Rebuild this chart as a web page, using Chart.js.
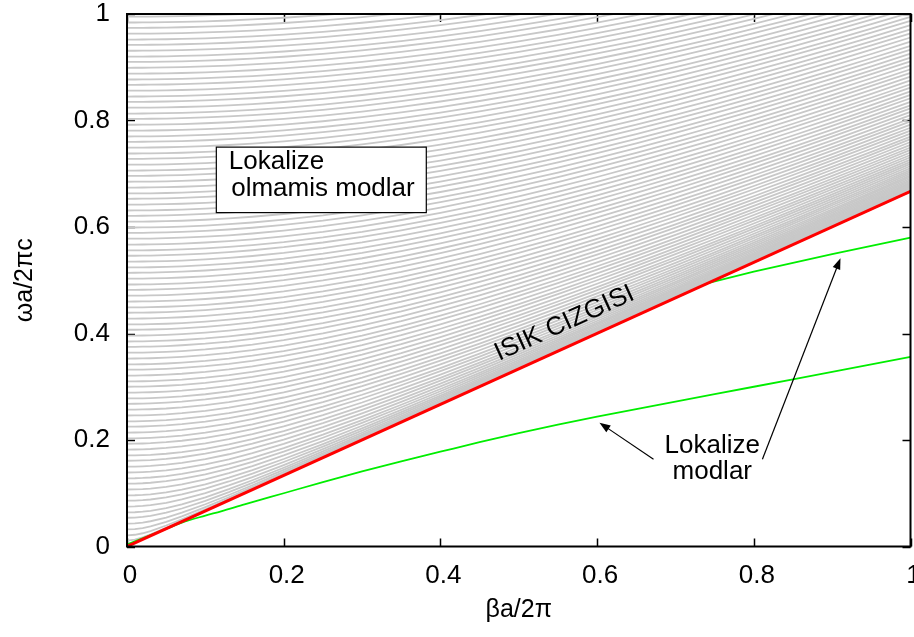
<!DOCTYPE html>
<html>
<head>
    <meta charset="UTF-8">
    <title>Isik cizgisi ve lokalize modlar</title>
    <script src="https://cdn.jsdelivr.net/npm/chart.js@4/dist/chart.umd.min.js"></script>
    <style type="text/css">
        html, body {
            margin: 0;
            padding: 0;
            overflow: hidden;
            background: #fff;
        }
        #wrap {
            width: 940px;
            height: 637px;
        }
    </style>
</head>
<body>

<div id="wrap">
    <canvas id="bandChart" width="940" height="637"></canvas>
</div>

<script>
    // light line: omega = beta / n
    const nClad = 1.5;
    const lightLineBeta = [0, 1];
    const lightLineOmega = [0, 0.667];

    // cut-off frequencies (beta = 0) of the radiation bands above the light line
    const bandCutoffs = [
        0.011, 0.021, 0.032, 0.043, 0.054, 0.064, 0.075, 0.086, 0.096, 0.107,
        0.118, 0.128, 0.139, 0.150, 0.161, 0.171, 0.182, 0.193, 0.203, 0.214,
        0.225, 0.235, 0.246, 0.257, 0.268, 0.278, 0.289, 0.300, 0.310, 0.321,
        0.332, 0.342, 0.353, 0.364, 0.375, 0.385, 0.396, 0.407, 0.417, 0.428,
        0.439, 0.449, 0.460, 0.471, 0.482, 0.492, 0.503, 0.514, 0.524, 0.535,
        0.546, 0.556, 0.567, 0.578, 0.589, 0.599, 0.610, 0.621, 0.631, 0.642,
        0.653, 0.663, 0.674, 0.685, 0.696, 0.706, 0.717, 0.728, 0.738, 0.749,
        0.760, 0.770, 0.781, 0.792, 0.803, 0.813, 0.824, 0.835, 0.845, 0.856,
        0.867, 0.877, 0.888, 0.899, 0.910, 0.920, 0.931, 0.942, 0.952, 0.963,
        0.974, 0.984, 0.995
    ];
    const bandBeta = [0, 0.01, 0.02, 0.03, 0.05, 0.07, 0.1, 0.13, 0.16, 0.2, 0.25, 0.3, 0.35,
        0.4, 0.45, 0.5, 0.55, 0.6, 0.65, 0.7, 0.75, 0.8, 0.85, 0.9, 0.95, 1];

    // guided (localized) modes below the light line
    const mode1Beta = [0, 0.04, 0.07, 0.1, 0.12, 0.15, 0.2, 0.25, 0.3, 0.35, 0.4, 0.45, 0.5,
        0.55, 0.6, 0.7, 0.8, 0.9, 1.0];
    const mode1Omega = [0.004, 0.027, 0.045, 0.058, 0.066, 0.079, 0.100, 0.121, 0.141, 0.160,
        0.178, 0.196, 0.213, 0.229, 0.244, 0.272, 0.300, 0.328, 0.356];
    const mode2Beta = [0.74, 0.8, 0.9, 1.0];
    const mode2Omega = [0.494, 0.516, 0.549, 0.580];

    const xTickLabels = ['0', '0.2', '0.4', '0.6', '0.8', '1'];
    const yTickLabels = ['0', '0.2', '0.4', '0.6', '0.8', '1'];

    const FONT = "'Liberation Sans', Arial, sans-serif";

    function pairs(xs, ys) {
        return xs.map((x, i) => ({ x: x, y: ys[i] }));
    }

    const datasets = [];

    datasets.push({
        data: pairs(lightLineBeta, lightLineOmega),
        borderColor: '#ff0000',
        borderWidth: 3,
        order: 0
    });
    datasets.push({
        data: pairs(mode1Beta, mode1Omega),
        borderColor: '#00ee00',
        borderWidth: 1.8,
        cubicInterpolationMode: 'monotone',
        order: 1
    });
    datasets.push({
        data: pairs(mode2Beta, mode2Omega),
        borderColor: '#00ee00',
        borderWidth: 1.8,
        order: 1
    });

    bandCutoffs.forEach(function (w0) {
        datasets.push({
            data: bandBeta.map(b => ({ x: b, y: Math.sqrt(w0 * w0 + (b / nClad) * (b / nClad)) })),
            borderColor: '#c8c8c8',
            borderWidth: 1.8,
            order: 2
        });
    });

    // inward tick marks on all four sides (under the curves)
    const tickMarks = {
        id: 'tickMarks',
        beforeDatasetsDraw(chart) {
            const { ctx, chartArea: a, scales: { x, y } } = chart;
            const len = 8;
            ctx.save();
            ctx.strokeStyle = '#000';
            ctx.lineWidth = 1.5;
            ctx.beginPath();
            x.ticks.forEach(t => {
                const px = Math.round(x.getPixelForValue(t.value)) + 0.5;
                ctx.moveTo(px, a.bottom); ctx.lineTo(px, a.bottom - len);
                ctx.moveTo(px, a.top); ctx.lineTo(px, a.top + len);
            });
            y.ticks.forEach(t => {
                const py = Math.round(y.getPixelForValue(t.value)) + 0.5;
                ctx.moveTo(a.left, py); ctx.lineTo(a.left + len, py);
                ctx.moveTo(a.right, py); ctx.lineTo(a.right - len, py);
            });
            ctx.stroke();
            ctx.restore();
        }
    };

    function arrow(ctx, x0, y0, x1, y1) {
        const ang = Math.atan2(y1 - y0, x1 - x0);
        const hl = 11, hw = 4;
        ctx.beginPath();
        ctx.moveTo(x0, y0);
        ctx.lineTo(x1 - Math.cos(ang) * hl * 0.8, y1 - Math.sin(ang) * hl * 0.8);
        ctx.stroke();
        ctx.beginPath();
        ctx.moveTo(x1, y1);
        ctx.lineTo(x1 - Math.cos(ang) * hl - Math.sin(ang) * hw, y1 - Math.sin(ang) * hl + Math.cos(ang) * hw);
        ctx.lineTo(x1 - Math.cos(ang) * hl + Math.sin(ang) * hw, y1 - Math.sin(ang) * hl - Math.cos(ang) * hw);
        ctx.closePath();
        ctx.fill();
    }

    // frame, labels and arrows drawn on top of the curves
    const labels = {
        id: 'labels',
        afterDatasetsDraw(chart) {
            const { ctx, chartArea: a, scales: { x, y } } = chart;
            const px = v => x.getPixelForValue(v);
            const py = v => y.getPixelForValue(v);
            ctx.save();

            // text box in the radiation region
            const bx0 = px(0.114), bx1 = px(0.382), by0 = py(0.750), by1 = py(0.627);
            ctx.fillStyle = '#fff';
            ctx.fillRect(bx0, by0, bx1 - bx0, by1 - by0);
            ctx.strokeStyle = '#000';
            ctx.lineWidth = 1.2;
            ctx.strokeRect(bx0, by0, bx1 - bx0, by1 - by0);

            ctx.fillStyle = '#000';
            ctx.font = '26px ' + FONT;
            ctx.textAlign = 'left';
            ctx.textBaseline = 'alphabetic';
            ctx.fillText('Lokalize', px(0.130), py(0.709));
            ctx.fillText('olmamis modlar', px(0.133), py(0.658));

            // label along the light line
            const ang = Math.atan2(py(lightLineOmega[1]) - py(lightLineOmega[0]),
                px(lightLineBeta[1]) - px(lightLineBeta[0]));
            ctx.save();
            ctx.translate(px(0.562), py(0.4066));
            ctx.rotate(ang);
            ctx.textAlign = 'center';
            ctx.fillText('ISIK CIZGISI', 0, 0);
            ctx.restore();

            // guided modes label and arrows
            ctx.textAlign = 'center';
            ctx.fillText('Lokalize', px(0.747), py(0.1756));
            ctx.fillText('modlar', px(0.747), py(0.1268));

            ctx.strokeStyle = '#000';
            ctx.lineWidth = 1.2;
            arrow(ctx, px(0.672), py(0.1638), px(0.603), py(0.2325));
            arrow(ctx, px(0.811), py(0.1638), px(0.9106), py(0.5412));

            // plot border
            ctx.lineWidth = 2;
            ctx.strokeRect(a.left, a.top, a.right - a.left, a.bottom - a.top);
            ctx.restore();
        }
    };

    const chart = new Chart(document.getElementById('bandChart'), {
        type: 'line',
        data: { datasets: datasets },
        options: {
            responsive: false,
            animation: false,
            events: [],
            layout: { padding: { top: 14, left: 0, right: 29, bottom: 0 } },
            elements: {
                point: { radius: 0 },
                line: { tension: 0, fill: false }
            },
            plugins: {
                legend: { display: false },
                tooltip: { enabled: false }
            },
            scales: {
                x: {
                    type: 'linear',
                    min: 0,
                    max: 1,
                    afterFit: s => { s.height = 90.5; s.paddingLeft = 0; s.paddingRight = 0; },
                    grid: { display: false, drawTicks: false },
                    border: { display: false },
                    ticks: {
                        stepSize: 0.2,
                        padding: 16,
                        labelOffset: 3,
                        color: '#000',
                        font: { family: FONT, size: 26, lineHeight: 1 },
                        callback: (v, i) => xTickLabels[i]
                    },
                    title: {
                        display: true,
                        text: 'βa/2π',
                        color: '#000',
                        font: { family: FONT, size: 25, lineHeight: 1.2 },
                        padding: { top: 0, bottom: 12 }
                    }
                },
                y: {
                    type: 'linear',
                    min: 0,
                    max: 1,
                    afterFit: s => { s.width = 127; s.paddingTop = 0; s.paddingBottom = 0; },
                    grid: { display: false, drawTicks: false },
                    border: { display: false },
                    ticks: {
                        stepSize: 0.2,
                        padding: 17,
                        color: '#000',
                        font: { family: FONT, size: 26, lineHeight: 1 },
                        callback: (v, i) => yTickLabels[i]
                    },
                    title: {
                        display: true,
                        text: 'ωa/2πc',
                        color: '#000',
                        font: { family: FONT, size: 25, lineHeight: 1.2 },
                        padding: { top: 10, bottom: 0 }
                    }
                }
            }
        },
        plugins: [tickMarks, labels]
    });

    // pin the plot frame to its place on the page
    const area = chart.chartArea;
    const pad = chart.options.layout.padding;
    pad.top += 14 - area.top;
    pad.right += area.right - 910.5;
    chart.update();
</script>
</body>
</html>
